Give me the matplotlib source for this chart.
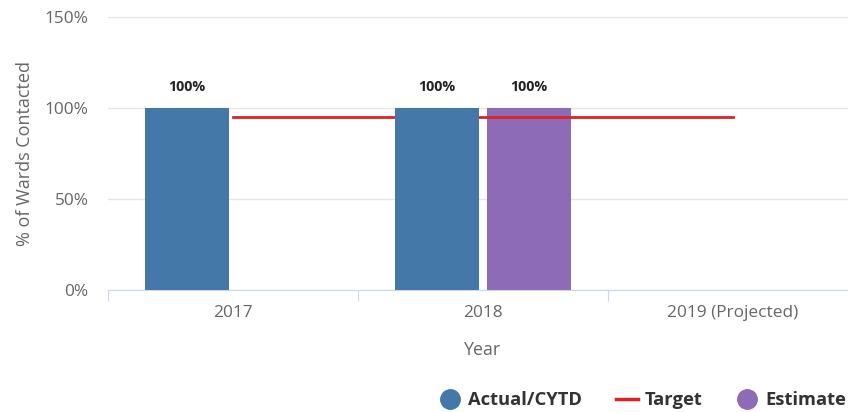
import numpy as np
import matplotlib
matplotlib.use("Agg")
import matplotlib.pyplot as plt
from matplotlib.lines import Line2D

plt.rcParams['font.family'] = ['Open Sans', 'DejaVu Sans']

years = ["2017", "2018", "2019 (Projected)"]
actual = [100, 100, np.nan]
estimate = [np.nan, 100, np.nan]
target = [95, 95, 95]

blue = "#4378a9"
purple = "#8d6bb6"
red = "#dd2222"
grey_text = "#666666"

fig = plt.figure(figsize=(8.48, 4.12), dpi=100)
ax = fig.add_axes([108 / 848, 1 - 290 / 412, 750 / 848, 273 / 412])

x = np.arange(len(years))
w = 0.336
off = 0.184

# bars: actual sits above the target line, estimate below it
ax.bar(x - off, actual, width=w, color=blue, zorder=3)
ax.bar(x + off, estimate, width=w, color=purple, zorder=2)
ax.plot(x, target, color=red, lw=2, zorder=2.5)

for xi, v in zip(x - off, actual):
    if not np.isnan(v):
        ax.annotate(f"{v:.0f}%", (xi, v), xytext=(0, 10), textcoords="offset points",
                    ha="center", va="bottom", fontsize=10.3, fontweight="bold", color="#222222")
for xi, v in zip(x + off, estimate):
    if not np.isnan(v):
        ax.annotate(f"{v:.0f}%", (xi, v), xytext=(0, 10), textcoords="offset points",
                    ha="center", va="bottom", fontsize=10.3, fontweight="bold", color="#222222")

ax.set_xlim(-0.5, 2.5)
ax.set_ylim(0, 150)
ax.set_yticks([0, 50, 100, 150])
ax.set_yticklabels(["0%", "50%", "100%", "150%"])
ax.grid(axis="y", color="#e6e6e6", lw=1, zorder=0)
ax.set_axisbelow(True)

# category boundary ticks, labels centred between them
ax.set_xticks([-0.5, 0.5, 1.5, 2.5])
ax.set_xticklabels([])
ax.set_xticks(x, minor=True)
ax.set_xticklabels(years, minor=True)
ax.tick_params(axis="x", which="major", length=8, color="#ccd6eb", direction="out")
ax.tick_params(axis="x", which="minor", length=0, pad=11, labelsize=12.4, labelcolor=grey_text)
ax.tick_params(axis="y", length=0, pad=14, labelsize=12.4, labelcolor=grey_text)

for s in ["top", "right", "left"]:
    ax.spines[s].set_visible(False)
ax.spines["bottom"].set_color("#ccd6eb")

ax.set_xlabel("Year", fontsize=12.8, color=grey_text, labelpad=14)
ax.set_ylabel("% of Wards Contacted", fontsize=13, color=grey_text, labelpad=8)

handles = [
    Line2D([], [], marker="o", ls="none", color=blue, markersize=14),
    Line2D([], [], color=red, lw=2.5),
    Line2D([], [], marker="o", ls="none", color=purple, markersize=14),
]
fig.legend(handles, ["Actual/CYTD", "Target", "Estimate"], loc="center left",
           bbox_to_anchor=(430 / 848, 1 - 400 / 412), ncol=3, frameon=False,
           handlelength=1.2, columnspacing=1.8, handletextpad=0.4, borderpad=0,
           prop={"weight": "bold", "size": 13.2}, labelcolor="#333333")

fig.savefig("out.png", dpi=100)
